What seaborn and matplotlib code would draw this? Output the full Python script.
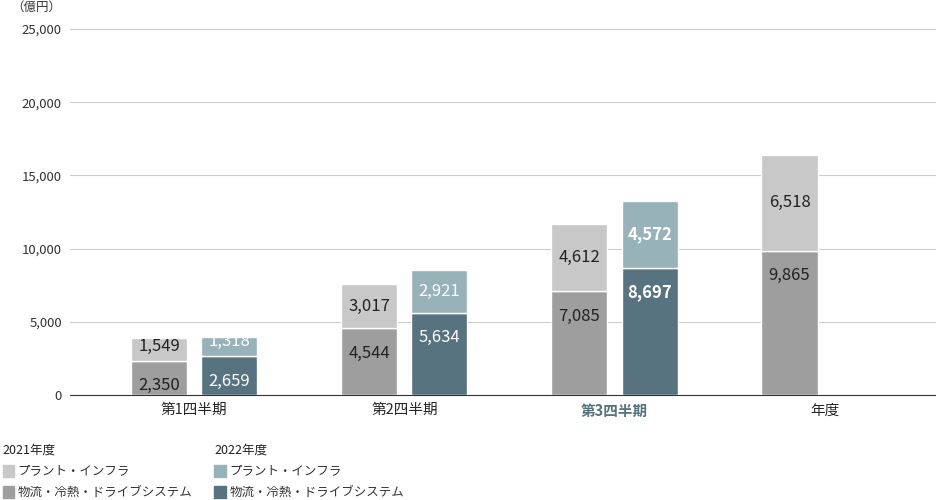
import matplotlib
matplotlib.use("Agg")
import matplotlib.pyplot as plt
import seaborn as sns
import numpy as np
from matplotlib.patches import Rectangle

sns.set_style("white")
plt.rcParams["font.family"] = "Noto Sans CJK JP"

categories = ["第1四半期", "第2四半期", "第3四半期", "年度"]
plant_2021 = [1549, 3017, 4612, 6518]
logi_2021 = [2350, 4544, 7085, 9865]
plant_2022 = [1318, 2921, 4572]
logi_2022 = [2659, 5634, 8697]

c_top21, c_bot21 = "#c8c8c8", "#9e9e9e"
c_top22, c_bot22 = "#98b2b9", "#56737f"

fig = plt.figure(figsize=(9.36, 5), dpi=100)
ax = fig.add_axes([0.075, 0.21, 0.925, 0.732])

x = np.arange(len(categories))
off, w = 0.167, 0.267

x21 = x - off
ax.bar(x21, logi_2021, w, color=c_bot21, zorder=3)
ax.bar(x21, plant_2021, w, bottom=logi_2021, color=c_top21, zorder=3)
x22 = x[:3] + off
ax.bar(x22, logi_2022, w, color=c_bot22, zorder=3)
ax.bar(x22, plant_2022, w, bottom=logi_2022, color=c_top22, zorder=3)

for i in range(len(categories)):
    ax.text(x21[i], logi_2021[i] - 1700, f"{logi_2021[i]:,}", ha="center", va="center", fontsize=12, color="#222222", zorder=4)
    ax.text(x21[i], logi_2021[i] + plant_2021[i] / 2 if plant_2021[i] > 3000 else logi_2021[i] + 1000,
            f"{plant_2021[i]:,}", ha="center", va="center", fontsize=12, color="#222222", zorder=4)
for i in range(3):
    bold = "bold" if i == 2 else "normal"
    ax.text(x22[i], logi_2022[i] - 1700, f"{logi_2022[i]:,}", ha="center", va="center", fontsize=12, color="white", weight=bold, zorder=4)
    ax.text(x22[i], logi_2022[i] + plant_2022[i] / 2 if plant_2022[i] > 2500 else logi_2022[i] + 1000,
            f"{plant_2022[i]:,}", ha="center", va="center", fontsize=12, color="white", weight=bold, zorder=4)

ax.set_xlim(-0.59, 3.53)
ax.set_ylim(0, 25000)
ax.set_yticks(np.arange(0, 25001, 5000))
ax.set_yticklabels([f"{v:,}" for v in range(0, 25001, 5000)], fontsize=9.5, color="#333333")
ax.yaxis.grid(True, color="#cccccc", linewidth=0.8, zorder=0)
ax.set_xticks(x)
ax.set_xticklabels(categories, fontsize=10.5)
ax.get_xticklabels()[2].set_color(c_bot22)
ax.get_xticklabels()[2].set_fontweight("bold")
ax.tick_params(axis="both", length=0, pad=6)
for s in ["top", "right", "left"]:
    ax.spines[s].set_visible(False)
ax.spines["bottom"].set_color("#333333")
fig.text(0.012, 0.985, "（億円）", fontsize=9, va="center", color="#333333")

def legend_item(xp, yp, color, label):
    fig.patches.append(Rectangle((xp, yp - 0.012), 0.012, 0.024, transform=fig.transFigure, color=color))
    fig.text(xp + 0.016, yp, label, fontsize=9, va="center", color="#333333")

fig.text(0.003, 0.1, "2021年度", fontsize=9, va="center", color="#222222")
legend_item(0.003, 0.058, c_top21, "プラント・インフラ")
legend_item(0.003, 0.016, c_bot21, "物流・冷熱・ドライブシステム")
fig.text(0.229, 0.1, "2022年度", fontsize=9, va="center", color="#222222")
legend_item(0.229, 0.058, c_top22, "プラント・インフラ")
legend_item(0.229, 0.016, c_bot22, "物流・冷熱・ドライブシステム")

fig.savefig("out.png", dpi=100)
